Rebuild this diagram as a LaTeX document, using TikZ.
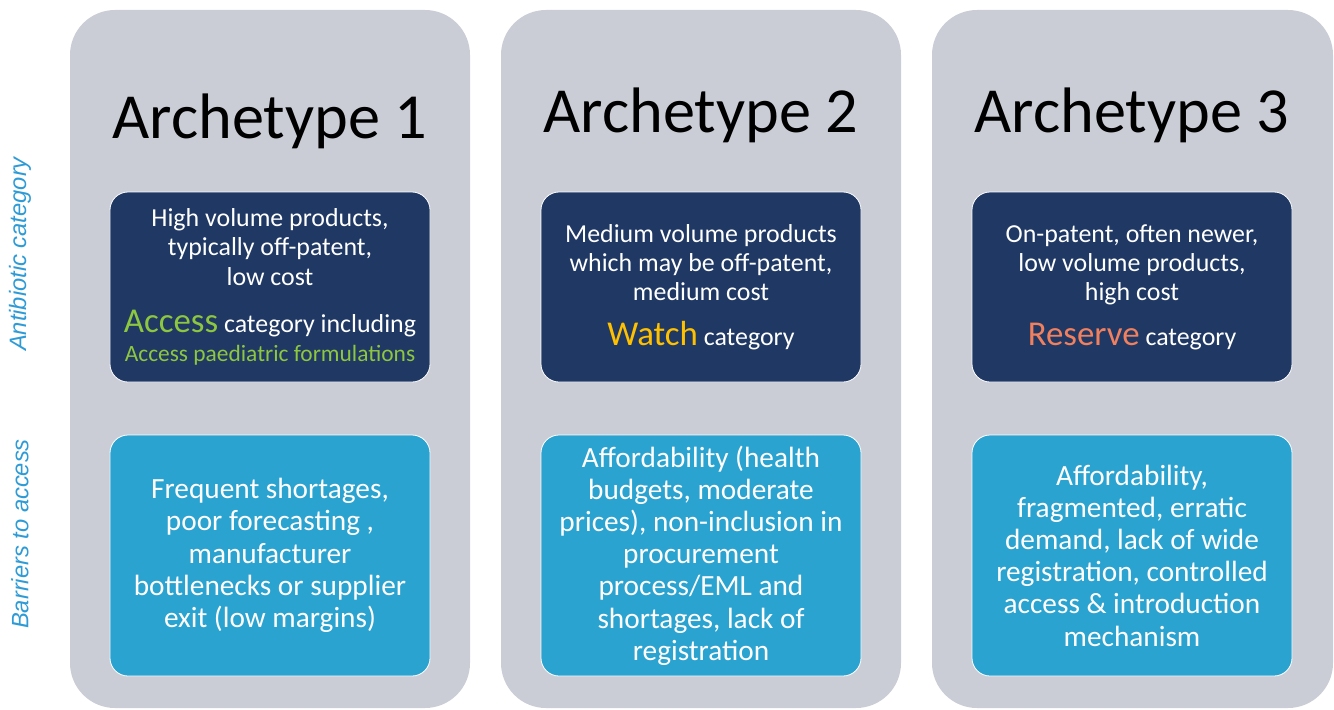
\documentclass[tikz,border=0pt]{standalone}
\usepackage{fontspec}
\setmainfont{Carlito}
\newfontfamily\sidefont{Liberation Sans}
\definecolor{panelgrey}{HTML}{CBCDD6}
\definecolor{navy}{HTML}{203864}
\definecolor{lightblue}{HTML}{2BA3D0}
\definecolor{accessgreen}{HTML}{8DC63F}
\definecolor{watchyellow}{HTML}{FFC000}
\definecolor{reserveorange}{HTML}{F0805E}
\definecolor{sideblue}{HTML}{2E9BD6}
\tikzset{
  panel/.style={fill=panelgrey, draw=none, rounded corners=45bp},
  title/.style={anchor=base, text=black, font=\fontsize{64.5}{75}\selectfont, inner sep=0pt},
  darkbox/.style={fill=navy, draw=white, line width=0.8bp, rounded corners=18bp,
    minimum width=320bp, minimum height=190bp, text=white, align=center,
    font=\fontsize{26}{29.5}\selectfont, inner sep=0pt},
  lightbox/.style={fill=lightblue, draw=white, line width=0.8bp, rounded corners=18bp,
    minimum width=320bp, minimum height=241bp, text=white, align=center,
    font=\fontsize{29.4}{32.3}\selectfont, inner sep=0pt},
  sidelabel/.style={rotate=90, text=sideblue, font=\sidefont\itshape\fontsize{23.8}{27}\selectfont}
}
\begin{document}
\begin{tikzpicture}[x=1bp,y=-1bp]
\useasboundingbox (0,0) rectangle (1334,709);
% panels
\path[panel] (70,10) rectangle (470,708);
\path[panel] (501,10) rectangle (901,708);
\path[panel] (932,10) rectangle (1333,708);
% side labels
\node[sidelabel] (lab1) at (20,254) {Antibiotic category};
\node[sidelabel] (lab2) at (20,534) {Barriers to access};
% titles
\node[title] (t1) at (270,138) {Archetype 1};
\node[title] (t2) at (701,133) {Archetype 2};
\node[title] (t3) at (1132,133) {Archetype 3};
% dark boxes
\node[darkbox] (c1) at (270,287) {High volume products,\\ typically off-patent,\\ low cost\\[18bp]
  {\color{accessgreen}\fontsize{35}{35}\selectfont Access} category including\\[0bp]
  {\color{accessgreen}\fontsize{23.5}{23.5}\selectfont Access paediatric formulations}};
\node[darkbox] (c2) at (701,287) {Medium volume products\\ which may be off-patent,\\ medium cost\\[15bp]
  {\color{watchyellow}\fontsize{35}{35}\selectfont Watch} category};
\node[darkbox] (c3) at (1132,287) {On-patent, often newer,\\ low volume products,\\ high cost\\[15bp]
  {\color{reserveorange}\fontsize{35}{35}\selectfont Reserve} category};
% light boxes
\node[lightbox] (b1) at (270,555.5) {Frequent shortages,\\ poor forecasting ,\\ manufacturer\\ bottlenecks or supplier\\ exit (low margins)};
\node[lightbox] (b2) at (701,555.5) {Affordability (health\\ budgets, moderate\\ prices), non-inclusion in\\ procurement\\ process/EML and\\ shortages, lack of\\ registration};
\node[lightbox] (b3) at (1132,555.5) {Affordability,\\ fragmented, erratic\\ demand, lack of wide\\ registration, controlled\\ access \& introduction\\ mechanism};
\end{tikzpicture}
\end{document}
